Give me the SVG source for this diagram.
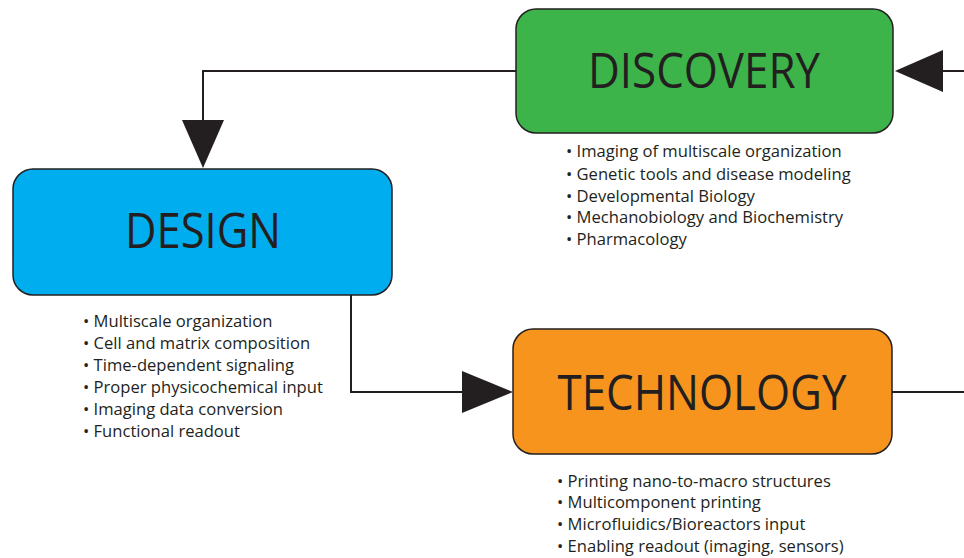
<svg xmlns="http://www.w3.org/2000/svg" width="964" height="558" viewBox="0 0 964 558">
<defs>
<style>
.box{stroke:#231f20;stroke-width:1.5}
.title{font-family:"Open Sans","Noto Sans",sans-serif;font-size:49px;fill:#231f20;text-anchor:middle}
.item{font-family:"Open Sans","Noto Sans",sans-serif;font-size:16.6px;fill:#231f20}
.line{fill:none;stroke:#231f20;stroke-width:2}
.head{fill:#231f20}
</style>
</defs>
<rect width="964" height="558" fill="#ffffff"/>
<g id="connectors">
<path class="line" d="M516 71 H203 V125"/>
<polygon class="head" points="182,120 224,120 203,168"/>
<path class="line" d="M351 295 V392 H465"/>
<polygon class="head" points="462,371 462,413 513,392"/>
<path class="line" d="M964 71 H940"/>
<polygon class="head" points="943,50 943,92 895,71"/>
<path class="line" d="M892 392 H964"/>
</g>
<g id="discovery">
<rect class="box" x="516" y="9" width="377" height="124" rx="20" fill="#3cb44a"/>
<text class="title" x="704" y="88" textLength="232" lengthAdjust="spacingAndGlyphs">DISCOVERY</text>
<text class="item" x="566" y="157">• Imaging of multiscale organization</text>
<text class="item" x="566" y="180">• Genetic tools and disease modeling</text>
<text class="item" x="566" y="202">• Developmental Biology</text>
<text class="item" x="566" y="223">• Mechanobiology and Biochemistry</text>
<text class="item" x="566" y="245">• Pharmacology</text>
</g>
<g id="design">
<rect class="box" x="13" y="169" width="379" height="126" rx="20" fill="#00aeef"/>
<text class="title" x="203" y="248" textLength="156" lengthAdjust="spacingAndGlyphs">DESIGN</text>
<text class="item" x="83" y="327">• Multiscale organization</text>
<text class="item" x="83" y="349">• Cell and matrix composition</text>
<text class="item" x="83" y="371">• Time-dependent signaling</text>
<text class="item" x="83" y="393">• Proper physicochemical input</text>
<text class="item" x="83" y="415">• Imaging data conversion</text>
<text class="item" x="83" y="437">• Functional readout</text>
</g>
<g id="technology">
<rect class="box" x="513" y="329" width="379" height="125" rx="20" fill="#f7941d"/>
<text class="title" x="702" y="410" textLength="289" lengthAdjust="spacingAndGlyphs">TECHNOLOGY</text>
<text class="item" x="557" y="487">• Printing nano-to-macro structures</text>
<text class="item" x="557" y="508">• Multicomponent printing</text>
<text class="item" x="557" y="530">• Microfluidics/Bioreactors input</text>
<text class="item" x="557" y="552">• Enabling readout (imaging, sensors)</text>
</g>
</svg>
